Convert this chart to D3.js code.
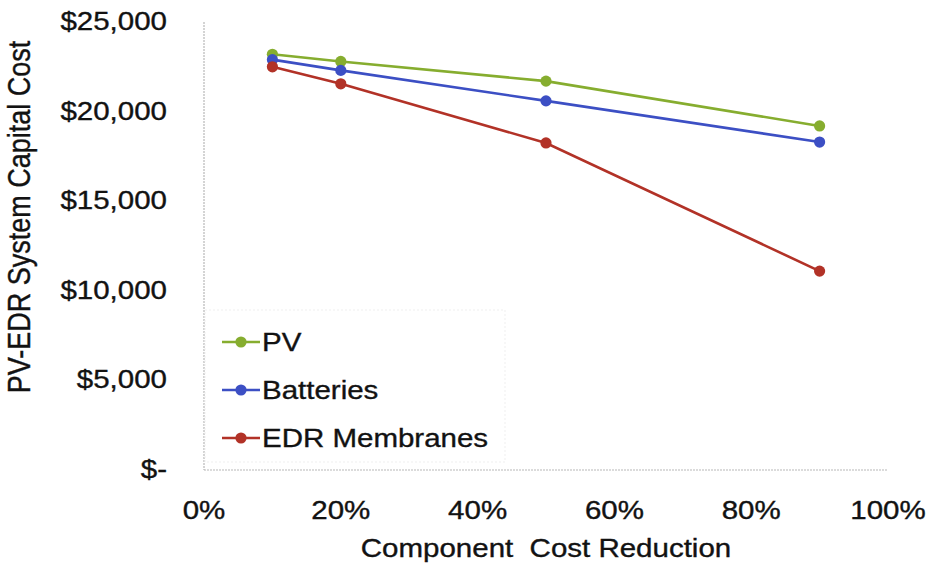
<!DOCTYPE html>
<html>
<head>
<meta charset="utf-8">
<script src="https://cdn.jsdelivr.net/npm/d3@7"></script>
<style>
  html, body { margin: 0; padding: 0; background: #ffffff; }
  svg { display: block; }
  text {
    font-family: "Liberation Sans", Arial, Helvetica, sans-serif;
    fill: #121212;
    stroke: #121212;
    stroke-width: 0.35px;
    white-space: pre;
  }
</style>
</head>
<body>
<script>
// Component cost reduction (fraction) at which the system was costed
const reductions = [0.10, 0.20, 0.50, 0.90];

// PV-EDR system capital cost ($) when each component's cost is reduced
const pvCost        = [23200, 22800, 21700, 19200];
const batteryCost   = [22900, 22300, 20600, 18300];
const membraneCost  = [22500, 21550, 18250, 11100];

const seriesNames  = ["PV", "Batteries", "EDR Membranes"];
const seriesColors = ["#86ad2f", "#3c4fc4", "#b23227"];

const xTicks = [0, 0.2, 0.4, 0.6, 0.8, 1.0];
const yTicks = [0, 5000, 10000, 15000, 20000, 25000];

const xTitle = "Component  Cost Reduction";
const yTitle = "PV-EDR System Capital Cost";

const series = [pvCost, batteryCost, membraneCost].map((vals, i) => ({
  name: seriesNames[i],
  color: seriesColors[i],
  points: vals.map((v, j) => ({ x: reductions[j], y: v }))
}));

const W = 930, H = 571;
const plot = { left: 204, right: 888, top: 22, bottom: 470 };
const stretch = 1.18;   // wide lettering

const svg = d3.select("body").append("svg").attr("width", W).attr("height", H);

const x = d3.scaleLinear().domain([0, 1]).range([plot.left, plot.right]);
const y = d3.scaleLinear().domain([0, 25000]).range([plot.bottom, plot.top]);

// text helper: places text at (px, py) and widens it about that anchor
function label(g, str, px, py, anchor, size, rotate) {
  return g.append("text")
    .attr("transform", `translate(${px},${py}) scale(${stretch},1)` + (rotate ? ` rotate(${rotate})` : ""))
    .attr("text-anchor", anchor)
    .style("font-size", size + "px")
    .text(str);
}

// axis lines (light, dotted)
svg.append("line")
  .attr("x1", x(0)).attr("x2", x(0))
  .attr("y1", y(25000)).attr("y2", y(0))
  .attr("stroke", "#b8b8b8").attr("stroke-width", 1.2).attr("stroke-dasharray", "2,1");
svg.append("line")
  .attr("x1", x(0)).attr("x2", x(1))
  .attr("y1", y(0)).attr("y2", y(0))
  .attr("stroke", "#b8b8b8").attr("stroke-width", 1.2).attr("stroke-dasharray", "2,1");

// y tick labels
const yFmt = v => v === 0 ? "$-" : "$" + d3.format(",")(v);
const yAxisG = svg.append("g");
yTicks.forEach(v => label(yAxisG, yFmt(v), 167, y(v) + 8, "end", 25));

// x tick labels
const xAxisG = svg.append("g");
xTicks.forEach(v => label(xAxisG, d3.format(".0%")(v), x(v), 519, "middle", 25));

// axis titles
label(svg, xTitle, (plot.left + plot.right) / 2, 557, "middle", 25);
label(svg, yTitle, 30, 217, "middle", 27, -90);

// lines and markers
const line = d3.line().x(d => x(d.x)).y(d => y(d.y));
const seriesG = svg.append("g");
series.forEach(s => {
  seriesG.append("path")
    .datum(s.points)
    .attr("d", line)
    .attr("fill", "none")
    .attr("stroke", s.color)
    .attr("stroke-width", 2.6);
  seriesG.selectAll(null)
    .data(s.points)
    .enter().append("circle")
    .attr("cx", d => x(d.x))
    .attr("cy", d => y(d.y))
    .attr("r", 5.6)
    .attr("fill", s.color);
});

// legend
const legend = svg.append("g");
legend.append("rect")
  .attr("x", 205).attr("y", 310).attr("width", 300).attr("height", 152)
  .attr("fill", "none").attr("stroke", "#efefef").attr("stroke-dasharray", "2,2");
const legendY = [342, 390, 438];
series.forEach((s, i) => {
  const ly = legendY[i];
  legend.append("line")
    .attr("x1", 222).attr("x2", 260).attr("y1", ly).attr("y2", ly)
    .attr("stroke", s.color).attr("stroke-width", 2.6);
  legend.append("circle")
    .attr("cx", 241).attr("cy", ly).attr("r", 5.6).attr("fill", s.color);
  label(legend, s.name, 262, ly + 9, "start", 25);
});
</script>
</body>
</html>
